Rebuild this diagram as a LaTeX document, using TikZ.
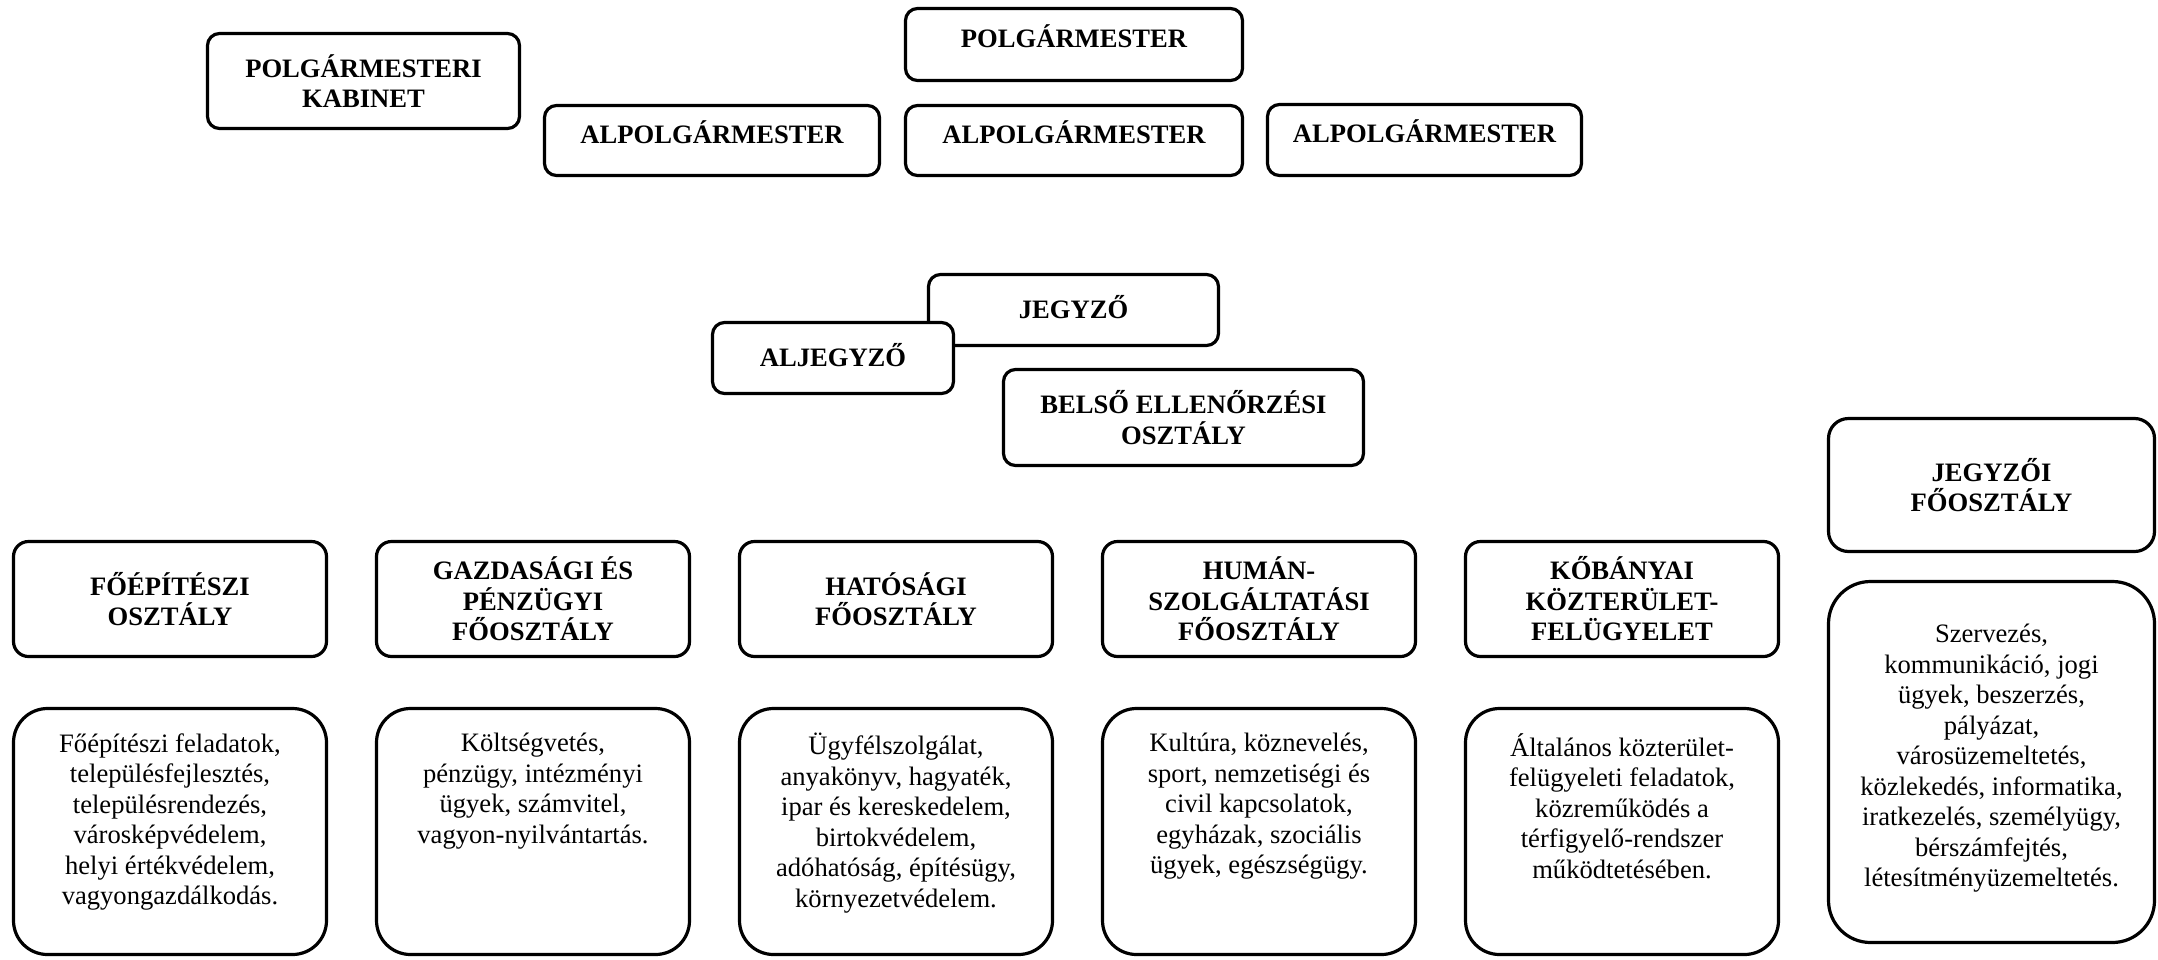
\documentclass[tikz,border=0pt]{standalone}
\usepackage{fontspec}
\setmainfont{Liberation Serif}
\usepackage{tikz}

\begin{document}
\begin{tikzpicture}[x=0.5pt,y=-0.5pt,
	box/.style={draw,line width=1.6pt,rounded corners=6pt,fill=white,align=center,inner sep=0pt,
		font=\fontsize{13.3}{15.25}\selectfont\bfseries},
	onerow/.style={text height=10pt,text depth=7.2pt},
	capsrow/.style={text height=8.8pt,text depth=0pt},
	head/.style={box,rounded corners=7.5pt,minimum width=156.5pt,minimum height=57.5pt},
	task/.style={draw,line width=1.6pt,rounded corners=17pt,minimum width=156.5pt,minimum height=123pt},
	tasktext/.style={anchor=north,align=center,inner sep=0pt,font=\fontsize{13.3}{15.25}\selectfont}]
	\useasboundingbox (0,0) rectangle (2158,959);
	% mayor and deputies
	\node[box,minimum width=156pt,minimum height=47.5pt] (kabinet) at (363.5,81) {POLGÁRMESTERI\\KABINET};
	\node[box,onerow,minimum width=168.5pt,minimum height=36pt] (polg) at (1074,44.5) {POLGÁRMESTER};
	\node[box,onerow,minimum width=167.5pt,minimum height=35pt] (alpolga) at (712,140.5) {ALPOLGÁRMESTER};
	\node[box,onerow,minimum width=168.5pt,minimum height=35pt] (alpolgb) at (1074,140.5) {ALPOLGÁRMESTER};
	\node[box,onerow,minimum width=157pt,minimum height=35.5pt] (alpolgc) at (1424.5,140) {ALPOLGÁRMESTER};
	% notary
	\node[box,capsrow,minimum width=145pt,minimum height=35.5pt] (jegyzo) at (1073.5,310) {JEGYZŐ};
	\node[box,capsrow,minimum width=120.5pt,minimum height=35.5pt] (aljegyzo) at (833,358) {ALJEGYZŐ};
	\node[box,minimum width=180pt,minimum height=48pt] (belso) at (1183.5,417.5) {BELSŐ ELLENŐRZÉSI\\OSZTÁLY};
	% departments
	\node[head] (foepit) at (170,599) {FŐÉPÍTÉSZI\\OSZTÁLY};
	\node[head] (gazd) at (533,599) {GAZDASÁGI ÉS\\PÉNZÜGYI\\FŐOSZTÁLY};
	\node[head] (hatos) at (896,599) {HATÓSÁGI\\FŐOSZTÁLY};
	\node[head] (human) at (1259,599) {HUMÁN-\\SZOLGÁLTATÁSI\\FŐOSZTÁLY};
	\node[head] (kozter) at (1622,599) {KŐBÁNYAI\\KÖZTERÜLET-\\FELÜGYELET};
	\node[head,rounded corners=10pt,minimum width=163pt,minimum height=66.5pt] (jegyzoi) at (1991.5,485) {JEGYZŐI\\FŐOSZTÁLY};
	% tasks
	\node[task] (foepittask) at (170,831.5) {};
	\node[task] (gazdtask) at (533,831.5) {};
	\node[task] (hatostask) at (896,831.5) {};
	\node[task] (humantask) at (1259,831.5) {};
	\node[task] (koztertask) at (1622,831.5) {};
	\node[task,rounded corners=21pt,minimum width=163pt,minimum height=180.5pt] (jegyzoitask) at (1991.5,762) {};
	\node[tasktext] (foepittext) at (170,733) {Főépítészi feladatok,\\településfejlesztés,\\településrendezés,\\városképvédelem,\\helyi értékvédelem,\\vagyongazdálkodás.};
	\node[tasktext] (gazdtext) at (533,733) {Költségvetés,\\pénzügy, intézményi\\ügyek, számvitel,\\vagyon-nyilvántartás.};
	\node[tasktext] (hatostext) at (896,733) {Ügyfélszolgálat,\\anyakönyv, hagyaték,\\ipar és kereskedelem,\\birtokvédelem,\\adóhatóság, építésügy,\\környezetvédelem.};
	\node[tasktext] (humantext) at (1259,733) {Kultúra, köznevelés,\\sport, nemzetiségi és\\civil kapcsolatok,\\egyházak, szociális\\ügyek, egészségügy.};
	\node[tasktext] (koztertext) at (1622,733) {Általános közterület-\\felügyeleti feladatok,\\közreműködés a\\térfigyelő-rendszer\\működtetésében.};
	\node[tasktext] (jegyzoitext) at (1991.5,624) {Szervezés,\\kommunikáció, jogi\\ügyek, beszerzés,\\pályázat,\\városüzemeltetés,\\közlekedés, informatika,\\iratkezelés, személyügy,\\bérszámfejtés,\\létesítményüzemeltetés.};
\end{tikzpicture}
\end{document}
